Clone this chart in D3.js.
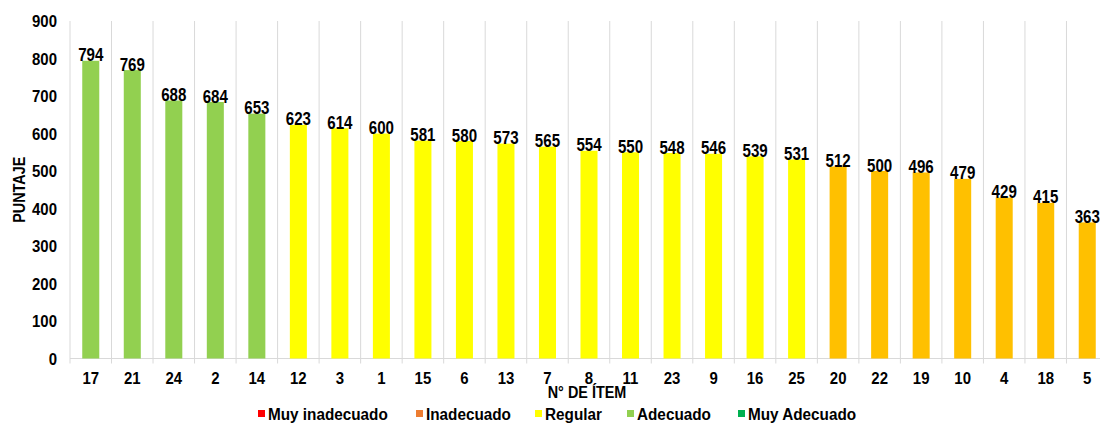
<!DOCTYPE html>
<html>
<head>
<meta charset="utf-8">
<script src="https://cdn.jsdelivr.net/npm/d3@7"></script>
<style>
  html, body { margin: 0; padding: 0; background: #fff; }
  svg { display: block; font-family: "Liberation Sans", Arial, sans-serif; font-weight: bold; }
</style>
</head>
<body>
<svg id="chart" width="1100" height="423"></svg>
<script>
// Ítems ordenados por puntaje
const items = ["17","21","24","2","14","12","3","1","15","6","13","7","8","11","23","9","16","25","20","22","19","10","4","18","5"];
const puntajes = [794,769,688,684,653,623,614,600,581,580,573,565,554,550,548,546,539,531,512,500,496,479,429,415,363];
const niveles = ["Adecuado","Adecuado","Adecuado","Adecuado","Adecuado",
  "Regular","Regular","Regular","Regular","Regular","Regular","Regular","Regular","Regular","Regular","Regular","Regular","Regular",
  "Inadecuado","Inadecuado","Inadecuado","Inadecuado","Inadecuado","Inadecuado","Inadecuado"];
const yTicks = [0,100,200,300,400,500,600,700,800,900];
const leyenda = ["Muy inadecuado","Inadecuado","Regular","Adecuado","Muy Adecuado"];
const coloresLeyenda = ["#FF0000","#ED7D31","#FFFF00","#92D050","#00B050"];
const coloresBarra = { "Inadecuado": "#FFC000", "Regular": "#FFFF00", "Adecuado": "#92D050" };

const svg = d3.select("#chart");
const plotLeft = 70, plotRight = 1108, plotTop = 21, plotBottom = 358.5;

const x = d3.scaleBand().domain(items).range([plotLeft, plotRight]).paddingInner(0.59).paddingOuter(0.295);
const y = d3.scaleLinear().domain([0, 900]).range([plotBottom, plotTop]);

// Líneas verticales entre categorías
const bounds = d3.range(items.length + 1).map(i => plotLeft + i * (plotRight - plotLeft) / items.length);
svg.append("g").selectAll("line").data(bounds).join("line")
  .attr("x1", d => d).attr("x2", d => d)
  .attr("y1", plotTop).attr("y2", plotBottom + 5)
  .attr("stroke", "#d9d9d9").attr("stroke-width", 1);

// Línea base
svg.append("line")
  .attr("x1", plotLeft).attr("x2", plotRight)
  .attr("y1", plotBottom).attr("y2", plotBottom)
  .attr("stroke", "#d9d9d9").attr("stroke-width", 1);

// Barras
svg.append("g").selectAll("rect").data(items).join("rect")
  .attr("x", d => x(d))
  .attr("width", x.bandwidth())
  .attr("y", (d, i) => y(puntajes[i]))
  .attr("height", (d, i) => y(0) - y(puntajes[i]))
  .attr("fill", (d, i) => coloresBarra[niveles[i]]);

// Etiquetas de valor (ligeramente condensadas)
svg.append("g").selectAll("text").data(items).join("text")
  .attr("transform", (d, i) => `translate(${x(d) + x.bandwidth() / 2}, ${y(puntajes[i]) + 0.5}) scale(0.84, 1)`)
  .attr("text-anchor", "middle")
  .attr("font-size", 18)
  .attr("fill", "#000")
  .text((d, i) => puntajes[i]);

// Eje Y
svg.append("g").selectAll("text").data(yTicks).join("text")
  .attr("transform", d => `translate(57, ${y(d) + 6}) scale(0.88, 1)`)
  .attr("text-anchor", "end")
  .attr("font-size", 17)
  .text(d => d);

// Eje X
svg.append("g").selectAll("text").data(items).join("text")
  .attr("transform", d => `translate(${x(d) + x.bandwidth() / 2}, 384) scale(0.88, 1)`)
  .attr("text-anchor", "middle")
  .attr("font-size", 17)
  .text(d => d);

// Títulos de ejes
svg.append("text")
  .attr("transform", `translate(25, ${(plotTop + plotBottom) / 2}) rotate(-90) scale(0.9, 1)`)
  .attr("text-anchor", "middle")
  .attr("font-size", 16)
  .text("PUNTAJE");

svg.append("text")
  .attr("transform", "translate(587, 398) scale(0.9, 1)")
  .attr("text-anchor", "middle")
  .attr("font-size", 16)
  .text("N° DE ÍTEM");

// Leyenda
const legX = [258, 416, 535, 627, 738];
const leg = svg.append("g").selectAll("g").data(leyenda).join("g")
  .attr("transform", (d, i) => `translate(${legX[i]}, 0)`);
leg.append("rect")
  .attr("x", 0).attr("y", 410).attr("width", 7).attr("height", 7)
  .attr("fill", (d, i) => coloresLeyenda[i]);
leg.append("text")
  .attr("transform", "translate(10, 420) scale(0.9, 1)")
  .attr("font-size", 17)
  .text(d => d);
</script>
</body>
</html>
